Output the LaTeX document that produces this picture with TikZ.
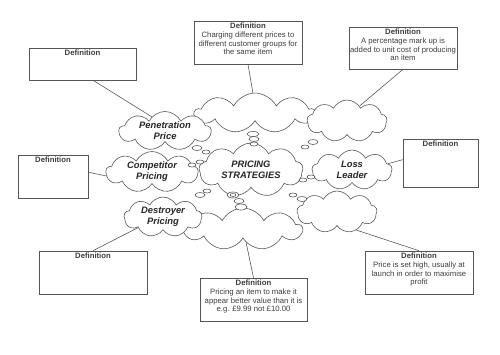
\documentclass[tikz,border=0pt]{standalone}
\usepackage{fontspec}
\setmainfont{Liberation Sans}
\usepackage{xcolor}
\usepackage{tikz}
\usetikzlibrary{shapes.symbols}
\definecolor{GrisLinea}{RGB}{85,85,85}
\definecolor{GrisTexto}{RGB}{60,60,60}

\begin{document}
\begin{tikzpicture}[x=0.03cm,y=-0.03cm,line width=0.5pt,
  nube/.style={cloud,cloud puffs=9,cloud puff arc=125,cloud ignores aspect,draw=GrisLinea,fill=white,inner sep=0pt,
    font=\fontsize{8}{9.5}\selectfont\bfseries\itshape,align=center,text=black!85},
  caja/.style={draw=GrisLinea,rectangle,inner sep=0pt},
  texto/.style={font=\fontsize{6.6}{7.4}\selectfont,align=center,inner sep=2pt,text=GrisTexto},
  burbuja/.style={draw=GrisLinea,fill=white}]
  \useasboundingbox (0,0) rectangle (500,354);
  % nubes
  \node[nube,minimum width=3.6cm,minimum height=1.2cm] (topc) at (255,113) {};
  \node[nube,minimum width=2.4cm,minimum height=1.26cm] (topr) at (347,121) {};
  \node[nube,minimum width=3.54cm,minimum height=1.26cm] (botc) at (243,229) {};
  \node[nube,minimum width=2.4cm,minimum height=1.26cm] (botr) at (337,212) {};
  \node[nube,minimum width=2.76cm,minimum height=1.14cm] (pen) at (165,131) {Penetration\\Price};
  \node[nube,minimum width=2.76cm,minimum height=1.05cm] (comp) at (152,172) {Competitor\\Pricing};
  \node[nube,minimum width=2.34cm,minimum height=1.2cm] (dest) at (163,217) {Destroyer\\Pricing};
  \node[nube,minimum width=2.4cm,minimum height=1.2cm] (loss) at (352,170) {Loss\\Leader};
  \node[nube,minimum width=3.12cm,minimum height=1.62cm] (centro) at (251,170) {PRICING\\STRATEGIES};
  % burbujas
  \draw[burbuja] (253,134) ellipse [x radius=6,y radius=2.5];
  \draw[burbuja] (254,139) ellipse [x radius=5,y radius=2.5];
  \draw[burbuja] (254,144) ellipse [x radius=4,y radius=2];
  \draw[burbuja] (197,148) ellipse [x radius=5,y radius=2.5];
  \draw[burbuja] (206,152) ellipse [x radius=4,y radius=2];
  \draw[burbuja] (305,147) ellipse [x radius=4,y radius=2];
  \draw[burbuja] (313,142) ellipse [x radius=5,y radius=2.5];
  \draw[burbuja] (192,165) ellipse [x radius=4,y radius=2];
  \draw[burbuja] (200,162) ellipse [x radius=4,y radius=2];
  \draw[burbuja] (303,180) ellipse [x radius=4,y radius=2];
  \draw[burbuja] (311,177) ellipse [x radius=4,y radius=2];
  \draw[burbuja] (200,195) ellipse [x radius=5,y radius=2.5];
  \draw[burbuja] (207,191) ellipse [x radius=4,y radius=2];
  \draw[burbuja] (233,195) ellipse [x radius=6,y radius=3];
  \draw[burbuja] (233,195) ellipse [x radius=3,y radius=1.5];
  \draw[burbuja] (239,201) ellipse [x radius=5,y radius=2.5];
  \draw[burbuja] (241,207) ellipse [x radius=6,y radius=3];
  \draw[burbuja] (293,195) ellipse [x radius=4,y radius=2];
  \draw[burbuja] (302,199) ellipse [x radius=5,y radius=2.5];
  % cajas
  \node[caja,minimum width=3.21cm,minimum height=0.96cm] (cajaA) at (82.5,64) {};
  \node[caja,minimum width=3.24cm,minimum height=1.29cm] (cajaB) at (248,42.5) {};
  \node[caja,minimum width=3.24cm,minimum height=1.26cm] (cajaC) at (403,48) {};
  \node[caja,minimum width=2.1cm,minimum height=1.29cm] (cajaD) at (53,176.5) {};
  \node[caja,minimum width=2.25cm,minimum height=1.44cm] (cajaE) at (440.5,163) {};
  \node[caja,minimum width=3.24cm,minimum height=1.29cm] (cajaF) at (93,272.5) {};
  \node[caja,minimum width=3.21cm,minimum height=1.29cm] (cajaG) at (253.5,299.5) {};
  \node[caja,minimum width=3.24cm,minimum height=1.29cm] (cajaH) at (419,272.5) {};
  \node[texto,anchor=north] (textoA) at (cajaA.north) {\textbf{Definition}};
  \node[texto,anchor=north] (textoB) at (cajaB.north) {\textbf{Definition}\\Charging different prices to\\different customer groups for\\the same item};
  \node[texto,anchor=north] (textoC) at (cajaC.north) {\textbf{Definition}\\A percentage mark up is\\added to unit cost of producing\\an item};
  \node[texto,anchor=north] (textoD) at (cajaD.north) {\textbf{Definition}};
  \node[texto,anchor=north] (textoE) at (cajaE.north) {\textbf{Definition}};
  \node[texto,anchor=north] (textoF) at (cajaF.north) {\textbf{Definition}};
  \node[texto,anchor=north] (textoG) at (cajaG.north) {\textbf{Definition}\\Pricing an item to make it\\appear better value than it is\\e.g. £9.99 not £10.00};
  \node[texto,anchor=north] (textoH) at (cajaH.north) {\textbf{Definition}\\Price is set high, usually at\\launch in order to maximise\\profit};
  % lineas
  \draw[GrisLinea] (cajaA.-57) -- (pen.133);
  \draw[GrisLinea] (cajaB.south) -- (topc.96);
  \draw[GrisLinea] (cajaC.south) -- (topr.50);
  \draw[GrisLinea] (cajaD.7) -- (comp.185);
  \draw[GrisLinea] (cajaE.175) -- (loss.10);
  \draw[GrisLinea] (cajaF.north) -- (dest.203);
  \draw[GrisLinea] (cajaG.north) -- (botc.283);
  \draw[GrisLinea] (cajaH.north) -- (botr.317);
\end{tikzpicture}
\end{document}
